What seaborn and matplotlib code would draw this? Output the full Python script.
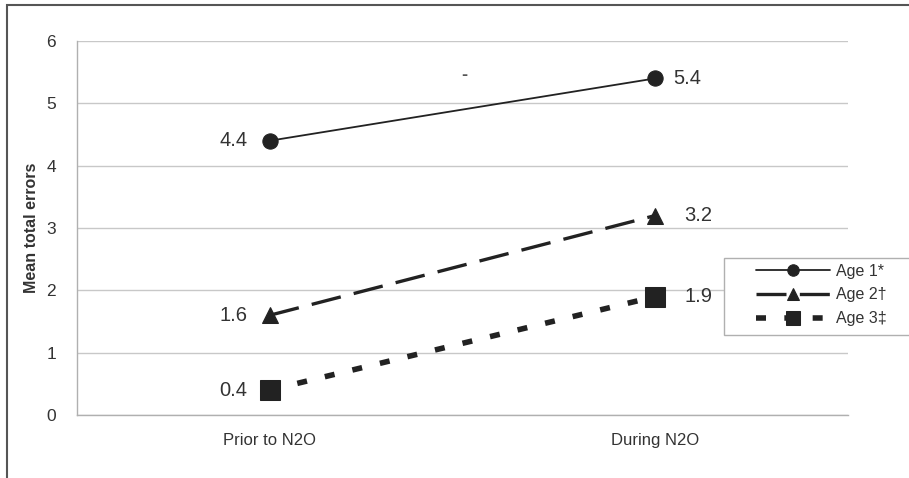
import numpy as np
import pandas as pd
import seaborn as sns
import matplotlib.pyplot as plt
import matplotlib.patches as mpatches

# values
phases = ['Prior to N2O', 'During N2O']
age1 = [4.4, 5.4]
age2 = [1.6, 3.2]
age3 = [0.4, 1.9]
series_names = ['Age 1*', 'Age 2\u2020', 'Age 3\u2021']

sns.set_style('white')
plt.rcParams['font.family'] = ['Liberation Sans', 'DejaVu Sans']

fig = plt.figure(figsize=(9.09, 4.78), dpi=100)
ax = fig.add_axes([77/909, 63/478, 771/909, 374/478])

styles = [
    dict(marker='o', markersize=11, linewidth=1.3, dashes=None),
    dict(marker='^', markersize=11.5, linewidth=2.4, dashes=(9, 4)),
    dict(marker='s', markersize=14, linewidth=4.0, dashes=(1.8, 3.3)),
]
ink = '#222222'

for name, vals, st in zip(series_names, [age1, age2, age3], styles):
    df = pd.DataFrame({'phase': phases, 'errors': vals})
    sns.lineplot(data=df, x='phase', y='errors', ax=ax, color=ink,
                 marker=st['marker'], markersize=st['markersize'],
                 markeredgecolor=ink, markerfacecolor=ink,
                 linewidth=st['linewidth'], label=name, sort=False)
    line = ax.lines[-1]
    if st['dashes'] is not None:
        line.set_dashes(st['dashes'])
    line.set_dash_capstyle('butt')
    # value labels beside the markers
    ax.annotate(f'{vals[0]:.1f}', (0, vals[0]), xytext=(-16, 0),
                textcoords='offset points', ha='right', va='center',
                fontsize=14.5, color='#333333')
    off = 13 if name.startswith('Age 1') else 21
    ax.annotate(f'{vals[1]:.1f}', (1, vals[1]), xytext=(off, 0),
                textcoords='offset points', ha='left', va='center',
                fontsize=14.5, color='#333333')

ax.set_xlim(-0.5, 1.5)
ax.set_ylim(0, 6)
ax.set_yticks(range(0, 7))
ax.set_xticks([0, 1])
ax.set_xticklabels(phases, fontsize=12, color='#333333')
ax.set_xticks([-0.5, 0.5, 1.5], minor=True)
ax.tick_params(axis='x', which='major', length=0, pad=13)
ax.tick_params(axis='x', which='minor', length=4, color='#aaaaaa', direction='out')
ax.tick_params(axis='y', length=5, color='#aaaaaa', labelsize=12.5,
               labelcolor='#333333', pad=10)
ax.yaxis.grid(True, color='#c8c8c8', linewidth=1.0)
ax.set_axisbelow(True)
for side in ['top', 'right']:
    ax.spines[side].set_visible(False)
for side in ['left', 'bottom']:
    ax.spines[side].set_color('#b0b0b0')
    ax.spines[side].set_linewidth(1.0)
ax.set_xlabel('')
ax.set_ylabel('Mean total errors', fontsize=11.5, fontweight='bold',
              color='#333333', labelpad=5)

# stray mark in the original
ax.text(0.505, 5.45, '-', ha='center', va='center', fontsize=13,
        fontweight='bold', color='#555555')

# legend box runs past the right edge of the picture
ax.add_patch(mpatches.Rectangle((0.839, 0.214), 0.4, 0.206,
                                transform=ax.transAxes, fill=True,
                                facecolor='white', edgecolor='#b0b0b0',
                                linewidth=1.0, clip_on=False, zorder=4))
leg = ax.legend(loc='upper left', bbox_to_anchor=(0.881, 0.405),
                borderaxespad=0, frameon=False, fontsize=11.5,
                handlelength=4.6, handletextpad=0.4, labelspacing=0.55,
                borderpad=0, labelcolor='#333333')
leg.set_zorder(5)
for h in leg.legend_handles:
    h.set_markersize(h.get_markersize() * 0.75)

# outer frame
fig.patches.append(mpatches.Rectangle((7/909, -0.05), 1.0, 1.05 - 5/478,
                                      transform=fig.transFigure, fill=False,
                                      edgecolor='#555555', linewidth=1.5))

plt.savefig('out.png', dpi=100)
